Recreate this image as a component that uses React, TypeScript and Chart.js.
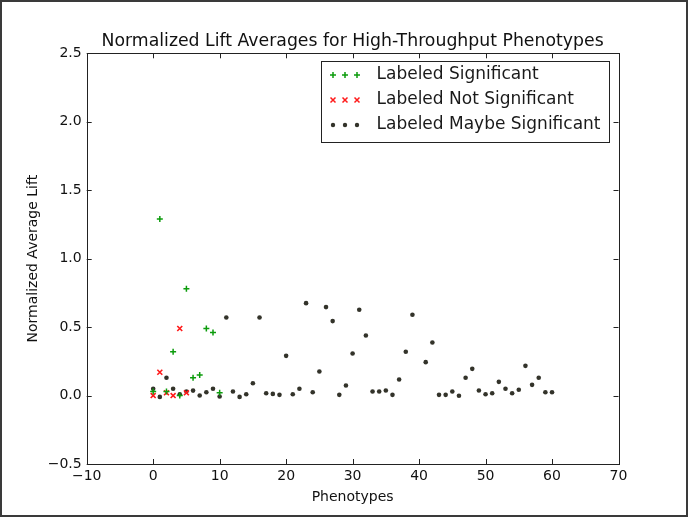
import React, { useEffect, useRef } from "react";
import { Chart, registerables } from "chart.js";

Chart.register(...registerables);

const chartTitle = "Normalized Lift Averages for High-Throughput Phenotypes";
const xTitle = "Phenotypes";
const yTitle = "Normalized Average Lift";

const seriesLabels = ["Labeled Significant", "Labeled Not Significant", "Labeled Maybe Significant"];

const sigX = [0, 1, 2, 3, 4, 5, 6, 7, 8, 9, 10];
const sigY = [0.03, 1.29, 0.03, 0.32, 0.0, 0.78, 0.13, 0.15, 0.49, 0.46, 0.02];

const notSigX = [0, 1, 2, 3, 4, 5];
const notSigY = [0.0, 0.17, 0.02, 0.0, 0.49, 0.02];

const maybeX = [
  0, 1, 2, 3, 4, 5, 6, 7, 8, 9, 10, 11, 12, 13, 14, 15, 16, 17, 18, 19, 20,
  21, 22, 23, 24, 25, 26, 27, 28, 29, 30, 31, 32, 33, 34, 35, 36, 37, 38, 39,
  41, 42, 43, 44, 45, 46, 47, 48, 49, 50, 51, 52, 53, 54, 55, 56, 57, 58, 59, 60,
];
const maybeY = [
  0.05, -0.01, 0.13, 0.05, 0.01, 0.03, 0.036, 0.0, 0.024, 0.05, -0.007, 0.57, 0.03, -0.01, 0.01, 0.09, 0.57, 0.017, 0.012, 0.005, 0.29,
  0.01, 0.05, 0.675, 0.024, 0.176, 0.646, 0.544, 0.005, 0.073, 0.307, 0.627, 0.439, 0.03, 0.03, 0.037, 0.005, 0.117, 0.32, 0.59,
  0.244, 0.388, 0.005, 0.005, 0.03, -0.002, 0.13, 0.195, 0.037, 0.01, 0.017, 0.1, 0.05, 0.017, 0.042, 0.217, 0.078, 0.13, 0.024, 0.024,
];

const xTickValues = [-10, 0, 10, 20, 30, 40, 50, 60, 70];
const yTickValues = [-0.5, 0.0, 0.5, 1.0, 1.5, 2.0, 2.5];

const GREEN = "#0c9c0c";
const RED = "#ff1a1a";
const DARK = "#33332a";
const FONT = "'DejaVu Sans', sans-serif";

const toPoints = (xs: number[], ys: number[]) => xs.map((x, i) => ({ x, y: ys[i] }));
const fmtMinus = (s: string) => s.replace("-", "\u2212");

function drawMarker(ctx: CanvasRenderingContext2D, style: string, color: string, x: number, y: number) {
  ctx.save();
  ctx.strokeStyle = color;
  ctx.fillStyle = color;
  ctx.lineWidth = 1.5;
  if (style === "cross") {
    const r = 3;
    ctx.beginPath();
    ctx.moveTo(x - r, y);
    ctx.lineTo(x + r, y);
    ctx.moveTo(x, y - r);
    ctx.lineTo(x, y + r);
    ctx.stroke();
  } else if (style === "crossRot") {
    const r = 2.5;
    ctx.beginPath();
    ctx.moveTo(x - r, y - r);
    ctx.lineTo(x + r, y + r);
    ctx.moveTo(x - r, y + r);
    ctx.lineTo(x + r, y - r);
    ctx.stroke();
  } else {
    ctx.beginPath();
    ctx.arc(x, y, 2.2, 0, Math.PI * 2);
    ctx.fill();
  }
  ctx.restore();
}

const titlePlugin = {
  id: "centeredTitle",
  afterDraw(chart: any) {
    const { ctx, chartArea } = chart;
    ctx.save();
    ctx.fillStyle = "#111";
    ctx.font = `17.3px ${FONT}`;
    ctx.textAlign = "center";
    ctx.textBaseline = "middle";
    ctx.fillText(chartTitle, (chartArea.left + chartArea.right) / 2, 39.5);
    ctx.restore();
  },
};

const framePlugin = {
  id: "frameTicks",
  afterDraw(chart: any) {
    const { ctx, chartArea } = chart;
    const { left, right, top, bottom } = chartArea;
    const xs = chart.scales.x;
    const ys = chart.scales.y;
    ctx.save();
    ctx.strokeStyle = "#222";
    ctx.lineWidth = 1;
    ctx.strokeRect(Math.round(left) + 0.5, Math.round(top) + 0.5, Math.round(right - left), Math.round(bottom - top));
    const tl = 5;
    ctx.beginPath();
    xTickValues.forEach((v) => {
      const px = Math.round(xs.getPixelForValue(v)) + 0.5;
      ctx.moveTo(px, bottom);
      ctx.lineTo(px, bottom - tl);
      ctx.moveTo(px, top);
      ctx.lineTo(px, top + tl);
    });
    yTickValues.forEach((v) => {
      const py = Math.round(ys.getPixelForValue(v)) + 0.5;
      ctx.moveTo(left, py);
      ctx.lineTo(left + tl, py);
      ctx.moveTo(right, py);
      ctx.lineTo(right - tl, py);
    });
    ctx.stroke();
    ctx.restore();
  },
};

const legendPlugin = {
  id: "mplLegend",
  afterDraw(chart: any) {
    const { ctx } = chart;
    const bx = 319.5, by = 59.5, bw = 288, bh = 81;
    ctx.save();
    ctx.fillStyle = "#ffffff";
    ctx.fillRect(bx, by, bw, bh);
    ctx.strokeStyle = "#222";
    ctx.lineWidth = 1;
    ctx.strokeRect(bx, by, bw, bh);
    const rows = [73, 98, 123];
    chart.data.datasets.forEach((ds: any, i: number) => {
      const y = rows[i];
      [331, 343, 355].forEach((mx) => drawMarker(ctx, ds.pointStyle, ds.borderColor, mx, y));
      ctx.fillStyle = "#1a1a1a";
      ctx.font = `17px ${FONT}`;
      ctx.textBaseline = "middle";
      ctx.textAlign = "left";
      ctx.fillText(ds.label, 374.5, y);
    });
    ctx.restore();
  },
};

export default function App() {
  const ref = useRef<HTMLCanvasElement>(null);

  useEffect(() => {
    if (!ref.current) return;
    const chart = new Chart(ref.current, {
      type: "scatter",
      data: {
        datasets: [
          {
            label: seriesLabels[0],
            data: toPoints(sigX, sigY),
            pointStyle: "cross",
            radius: 3,
            borderWidth: 1.5,
            borderColor: GREEN,
            backgroundColor: GREEN,
          },
          {
            label: seriesLabels[1],
            data: toPoints(notSigX, notSigY),
            pointStyle: "crossRot",
            radius: 3.5,
            borderWidth: 1.6,
            borderColor: RED,
            backgroundColor: RED,
          },
          {
            label: seriesLabels[2],
            data: toPoints(maybeX, maybeY),
            pointStyle: "circle",
            radius: 2.3,
            borderWidth: 0,
            borderColor: DARK,
            backgroundColor: DARK,
          },
        ] as any,
      },
      options: {
        animation: false,
        responsive: false,
        maintainAspectRatio: false,
        events: [],
        layout: { padding: { left: 0, top: 51.3, right: 67.5, bottom: 0 } },
        plugins: {
          legend: { display: false },
          tooltip: { enabled: false },
          title: { display: false },
        },
        scales: {
          x: {
            type: "linear",
            min: -10,
            max: 70,
            afterBuildTicks: (s: any) => {
              s.ticks = xTickValues.map((v) => ({ value: v }));
            },
            afterFit: (s: any) => {
              s.height = 51;
            },
            grid: { display: false, drawTicks: false },
            border: { display: false },
            ticks: {
              color: "#111",
              padding: 4,
              font: { family: FONT, size: 14 },
              maxRotation: 0,
              callback: (v: any) => fmtMinus(String(v)),
            },
            title: {
              display: true,
              text: xTitle,
              color: "#111",
              font: { family: FONT, size: 14 },
              padding: { top: 0, bottom: 9.6 },
            },
          },
          y: {
            type: "linear",
            min: -0.5,
            max: 2.5,
            afterBuildTicks: (s: any) => {
              s.ticks = yTickValues.map((v) => ({ value: v }));
            },
            afterFit: (s: any) => {
              s.width = 84.7;
            },
            grid: { display: false, drawTicks: false },
            border: { display: false },
            ticks: {
              color: "#111",
              padding: 5,
              font: { family: FONT, size: 14 },
              callback: (v: any) => fmtMinus(Number(v).toFixed(1)),
            },
            title: {
              display: true,
              text: yTitle,
              color: "#111",
              font: { family: FONT, size: 14 },
              padding: { top: 22.6, bottom: 0 },
            },
          },
        },
      } as any,
      plugins: [framePlugin, legendPlugin, titlePlugin],
    });
    return () => chart.destroy();
  }, []);

  return (
    <div
      style={{
        position: "fixed",
        left: 0,
        top: 0,
        width: 688,
        height: 517,
        boxSizing: "border-box",
        border: "2px solid #3a3a3a",
        background: "#fff",
      }}
    >
      <canvas ref={ref} width={684} height={513} style={{ display: "block", width: 684, height: 513 }} />
    </div>
  );
}
